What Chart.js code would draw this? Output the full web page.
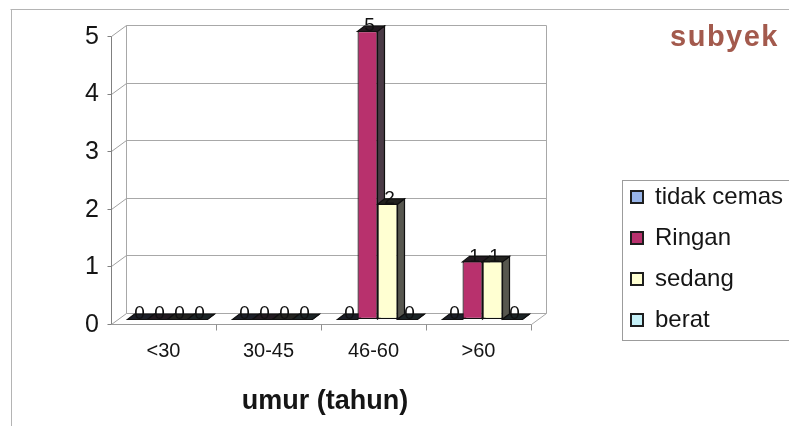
<!DOCTYPE html>
<html>
<head>
<meta charset="utf-8">
<script src="https://cdn.jsdelivr.net/npm/chart.js@4"></script>
<style>
  html, body { margin: 0; padding: 0; background: #ffffff; }
  #wrap { width: 789px; height: 426px; position: relative; }
</style>
</head>
<body>
<div id="wrap"><canvas id="c" width="789" height="426"></canvas></div>
<script>
// Age groups and number of subjects per anxiety level
const categories = ['<30', '30-45', '46-60', '>60'];
const seriesNames = ['tidak cemas', 'Ringan', 'sedang', 'berat'];
const tidakCemas = [0, 0, 0, 0];
const ringan = [0, 0, 5, 1];
const sedang = [0, 0, 2, 1];
const berat = [0, 0, 0, 0];
const yTicks = [0, 1, 2, 3, 4, 5];

const FONT = "'Liberation Sans', Arial, sans-serif";
Chart.defaults.font.family = FONT;
Chart.defaults.color = '#111111';

// front, side and top shades for each series
const faceColors = [
  { front: '#98b4e8', side: '#333b50', top: '#1c1f28' },
  { front: '#b8316d', side: '#4a3a46', top: '#221a20' },
  { front: '#ffffd2', side: '#57574f', top: '#22221f' },
  { front: '#c6f1f8', side: '#3a4f54', top: '#1c2426' }
];

// depth offsets of the pseudo-3D scene
const BAR_DX = 7, BAR_DY = -5;      // bar depth
const WALL_DX = 11, WALL_DY = -6;   // back wall relative to bar plane
const FRONT_DX = -4, FRONT_DY = 5;  // front axis plane relative to bar plane

function poly(ctx, pts, fill, stroke, lw) {
  ctx.beginPath();
  ctx.moveTo(pts[0][0], pts[0][1]);
  for (let i = 1; i < pts.length; i++) ctx.lineTo(pts[i][0], pts[i][1]);
  ctx.closePath();
  if (fill) { ctx.fillStyle = fill; ctx.fill(); }
  if (stroke) { ctx.strokeStyle = stroke; ctx.lineWidth = lw || 1; ctx.stroke(); }
}

function line(ctx, x1, y1, x2, y2, color) {
  ctx.beginPath();
  ctx.moveTo(x1, y1);
  ctx.lineTo(x2, y2);
  ctx.strokeStyle = color;
  ctx.lineWidth = 1;
  ctx.stroke();
}

const scene3d = {
  id: 'scene3d',
  afterLayout(chart) {
    // place the legend block on the right side
    const lg = chart.legend;
    if (lg) {
      lg.left = 614; lg.top = 168; lg.right = 789; lg.bottom = 426;
      lg.width = lg.right - lg.left; lg.height = lg.bottom - lg.top;
    }
  },
  beforeDatasetsDraw(chart) {
    const ctx = chart.ctx;
    const { left: L, right: R } = chart.chartArea;
    const ys = chart.scales.y;
    const y0 = ys.getPixelForValue(0);
    const yTop = ys.getPixelForValue(yTicks[yTicks.length - 1]);
    ctx.save();
    ctx.translate(0.5, 0.5);

    // back wall with gridlines
    const bl = Math.round(L + WALL_DX), br = Math.round(R + WALL_DX);
    yTicks.forEach(v => {
      const yy = Math.round(ys.getPixelForValue(v) + WALL_DY);
      line(ctx, bl, yy, br, yy, '#a8a8a8');
    });
    line(ctx, bl, Math.round(yTop + WALL_DY), bl, Math.round(y0 + WALL_DY), '#a8a8a8');
    line(ctx, br, Math.round(yTop + WALL_DY), br, Math.round(y0 + WALL_DY), '#a8a8a8');

    // front axis, side connectors and floor
    const fl = Math.round(L + FRONT_DX), fr = Math.round(R + FRONT_DX);
    yTicks.forEach(v => {
      const yf = Math.round(ys.getPixelForValue(v) + FRONT_DY);
      const yb = Math.round(ys.getPixelForValue(v) + WALL_DY);
      line(ctx, fl, yf, bl, yb, '#a0a0a0');
      line(ctx, fl - 4, yf, fl, yf, '#808080');
    });
    line(ctx, fl, Math.round(yTop + FRONT_DY), fl, Math.round(y0 + FRONT_DY), '#808080');
    const yf0 = Math.round(y0 + FRONT_DY);
    line(ctx, fl, yf0, fr, yf0, '#9a9a9a');
    line(ctx, fr, yf0, br, Math.round(y0 + WALL_DY), '#a8a8a8');
    const step = (R - L) / categories.length;
    for (let k = 1; k <= categories.length; k++) {
      const tx = Math.round(L + k * step + FRONT_DX);
      line(ctx, tx, yf0, tx, yf0 + 6, '#909090');
    }
    ctx.restore();

    // bar side and top faces, left to right so later bars overlap earlier ones
    ctx.save();
    for (let j = 0; j < categories.length; j++) {
      chart.data.datasets.forEach((ds, i) => {
        const el = chart.getDatasetMeta(i).data[j];
        if (!el) return;
        const p = el.getProps(['x', 'y', 'base', 'width'], true);
        const lft = p.x - p.width / 2, rgt = p.x + p.width / 2;
        const top = Math.min(p.y, p.base), base = Math.max(p.y, p.base);
        const c = faceColors[i];
        poly(ctx, [[rgt, top], [rgt + BAR_DX, top + BAR_DY], [rgt + BAR_DX, base + BAR_DY], [rgt, base]], c.side, '#101010', 1.2);
        poly(ctx, [[lft, top + 0.5], [rgt, top + 0.5], [rgt + BAR_DX, top + BAR_DY], [lft + BAR_DX, top + BAR_DY]], c.top, '#101010', 1.2);
      });
    }
    ctx.restore();
  },
  afterDatasetsDraw(chart) {
    // value labels on top of every bar
    const ctx = chart.ctx;
    ctx.save();
    ctx.font = '19px ' + FONT;
    ctx.fillStyle = '#111111';
    ctx.textAlign = 'center';
    ctx.textBaseline = 'middle';
    chart.data.datasets.forEach((ds, i) => {
      chart.getDatasetMeta(i).data.forEach((el, j) => {
        const p = el.getProps(['x', 'y'], true);
        ctx.fillText(String(ds.data[j]), p.x + 2, p.y - 5);
      });
    });
    ctx.restore();
  },
  afterDraw(chart) {
    const ctx = chart.ctx;
    ctx.save();
    // outer frame
    ctx.translate(0.5, 0.5);
    line(ctx, 10, 9, 789, 9, '#b4b4b4');
    line(ctx, 11, 9, 11, 426, '#b4b4b4');
    // legend frame
    ctx.strokeStyle = '#9c9c9c';
    ctx.lineWidth = 1;
    ctx.strokeRect(622, 180, 200, 160);
    ctx.restore();

    // chart title
    ctx.save();
    ctx.font = 'bold 29px ' + FONT;
    ctx.letterSpacing = '1.5px';
    ctx.fillStyle = '#a35a4d';
    ctx.textAlign = 'right';
    ctx.textBaseline = 'middle';
    ctx.fillText('subyek', 779, 38);
    ctx.restore();
  }
};

const datasetValues = [tidakCemas, ringan, sedang, berat];

new Chart(document.getElementById('c'), {
  type: 'bar',
  data: {
    labels: categories,
    datasets: datasetValues.map((vals, i) => ({
      label: seriesNames[i],
      data: vals,
      backgroundColor: faceColors[i].front,
      borderColor: '#101010',
      borderWidth: 1.2,
      borderSkipped: false,
      categoryPercentage: 0.762,
      barPercentage: 1.0
    }))
  },
  options: {
    responsive: false,
    animation: false,
    devicePixelRatio: 1,
    layout: { padding: { top: 29, right: 254, left: 0, bottom: 0 } },
    scales: {
      x: {
        offset: true,
        grid: { display: false, drawTicks: false },
        border: { display: false },
        ticks: {
          font: { size: 20 },
          color: '#151515',
          padding: 20,
          labelOffset: -4,
          maxRotation: 0,
          autoSkip: false
        },
        title: {
          display: true,
          text: 'umur (tahun)',
          font: { size: 27, weight: 'bold' },
          color: '#151515',
          padding: { top: 0, bottom: 8 }
        },
        afterFit(scale) { scale.height = 107; }
      },
      y: {
        min: 0,
        max: 5,
        grid: { display: false, drawTicks: false },
        border: { display: false },
        ticks: {
          stepSize: 1,
          font: { size: 25 },
          color: '#151515',
          padding: 16,
          labelOffset: 6
        },
        afterFit(scale) { scale.width = 115; }
      }
    },
    plugins: {
      legend: {
        position: 'chartArea',
        align: 'start',
        labels: {
          boxWidth: 12,
          boxHeight: 12,
          padding: 17,
          font: { size: 24 },
          color: '#151515',
          generateLabels(chart) {
            const items = Chart.defaults.plugins.legend.labels.generateLabels(chart);
            items.forEach(it => { it.strokeStyle = '#1e1e1e'; it.lineWidth = 2; });
            return items;
          }
        }
      },
      tooltip: { enabled: false },
      title: { display: false }
    }
  },
  plugins: [scene3d]
});
</script>
</body>
</html>
